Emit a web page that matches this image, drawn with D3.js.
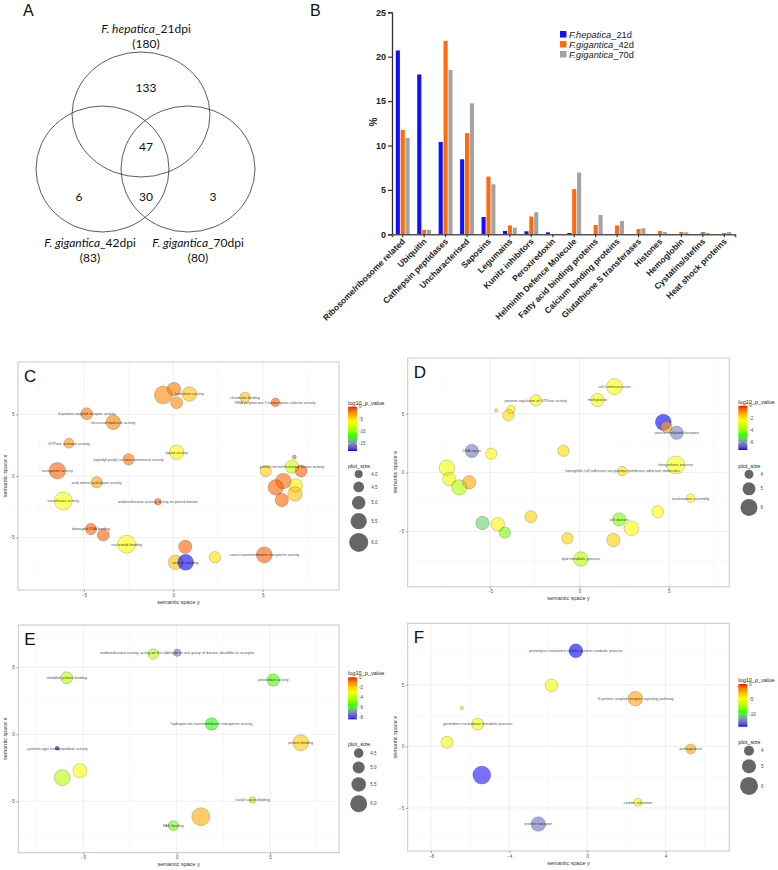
<!DOCTYPE html>
<html><head><meta charset="utf-8">
<script src="https://cdn.jsdelivr.net/npm/d3@7/dist/d3.min.js"></script>
<style>
body{margin:0;background:#fff}
svg{display:block;font-family:"Liberation Sans",Arial,sans-serif}
</style>
</head><body>
<svg id="chart" width="778" height="870"></svg>
<script>
// ================= DATA =================
// Panel A (Venn)
const vennSetNames = [["F. hepatica","_21dpi"],["F. gigantica","_42dpi"],["F. gigantica","_70dpi"]];
const vennSetTotals = [180, 83, 80];
const vennRegionCounts = {only21: 133, all3: 47, only42: 6, s42and70: 30, only70: 3};

// Panel B (bars)
const categories = ["Ribosome/ribosome related","Ubiquitin","Cathepsin peptidases","Uncharacterised","Saposins","Legumains","Kunitz inhibitors","Peroxiredoxin","Helminth Defence Molecule","Fatty acid binding proteins","Calcium binding proteins","Glutathione S transferases","Histones","Hemoglobin","Cystatins/stefins","Heat shock proteins"];
const seriesNames = [["F.hepatica","_21d"],["F.gigantica","_42d"],["F.gigantica","_70d"]];
const hepatica21 = [20.7,18.0,10.4,8.45,1.95,0.38,0.34,0.22,0.15,0,0,0,0,0,0,0];
const gigantica42 = [11.75,0.5,21.8,11.4,6.5,1.0,2.0,0,5.1,1.05,1.0,0.6,0.38,0.26,0.26,0.15];
const gigantica70 = [10.85,0.5,18.5,14.75,5.63,0.75,2.48,0,6.95,2.18,1.5,0.68,0.26,0.23,0.15,0.26];
const yTicksB = [0,5,10,15,20,25];

// Panels C-F (REVIGO): [label, semantic space y (x-axis), semantic space x (y-axis), log10_p_value, plot_size]
const goC = [
 ["", -0.56, 6.59, -2.2, 5.82],
 ["", 0.04, 7.07, -1.9, 4.98],
 ["", 0.19, 5.96, -2.2, 4.73],
 ["hydrolase activity", 0.90, 6.67, -4.1, 5.2],
 ["chromatin binding", 4.01, 6.40, -4.0, 4.47],
 ["RNA polymerase II transcription cofactor activity", 5.71, 5.99, -1.1, 4.11],
 ["G-protein coupled receptor activity", -4.85, 5.07, -1.7, 4.73],
 ["structural molecule activity", -3.36, 4.37, -2.0, 5.2],
 ["GTPase activator activity", -5.84, 2.66, -2.5, 4.36],
 ["ligase activity", 0.19, 1.93, -5.8, 5.2],
 ["peptidyl-prolyl cis-trans isomerase activity", -2.50, 1.36, -1.7, 4.62],
 ["transporter activity", -6.49, 0.43, -1.2, 5.56],
 ["acid-amino acid ligase activity", -4.29, -0.51, -3.0, 4.62],
 ["transferase activity", -6.16, -2.03, -6.0, 5.82],
 ["oxidoreductase activity, acting on paired donors", -0.86, -2.09, -1.1, 3.75],
 ["damaged DNA binding", -4.61, -4.31, -1.2, 4.62],
 ["", -3.92, -4.80, -1.1, 4.73],
 ["nucleotide binding", -2.61, -5.55, -6.2, 5.82],
 ["", 0.67, -5.75, -1.2, 4.98],
 ["", 2.33, -6.61, -5.0, 4.62],
 ["cation transmembrane transporter activity", 5.09, -6.42, -1.1, 5.45],
 ["", 0.13, -7.02, -4.0, 5.2],
 ["zinc ion binding", 0.69, -7.02, -18.0, 5.45],
 ["", 6.77, 1.54, -1.1, 3.27],
 ["", 5.17, 0.41, -4.5, 4.62],
 ["protein serine/threonine kinase activity", 6.64, 0.76, -8.0, 4.98],
 ["", 7.15, 0.41, -1.1, 4.73],
 ["", 6.16, -0.41, -1.4, 5.35],
 ["", 5.73, -0.92, -1.2, 5.35],
 ["", 6.85, -0.76, -5.5, 4.98],
 ["", 6.81, -1.46, -4.0, 5.2],
 ["", 6.07, -1.95, -1.3, 4.98]
];
const goD = [
 ["cell communication", 1.96, 7.29, -2.4, 5.75],
 ["methylation", 1.01, 6.16, -2.5, 5.1],
 ["positive regulation of GTPase activity", -2.44, 6.13, -2.3, 4.6],
 ["", -4.65, 5.28, -1.8, 2.6],
 ["", -3.82, 5.37, -2.2, 3.75],
 ["", -3.97, 4.86, -1.9, 4.6],
 ["", 4.69, 4.27, -7.2, 5.75],
 ["", 4.86, 3.89, -1.2, 4.6],
 ["vesicle-mediated transport", 5.44, 3.38, -6.2, 5.1],
 ["DNA repair", -6.01, 1.83, -6.3, 5.1],
 ["", -4.93, 1.60, -2.3, 4.6],
 ["", -0.89, 1.85, -1.9, 4.6],
 ["", -7.41, 0.41, -2.5, 5.6],
 ["", -7.28, -0.55, -2.6, 5.1],
 ["", -6.72, -1.26, -3.6, 5.6],
 ["", -6.16, -0.83, -1.3, 5.1],
 ["biosynthetic process", 5.39, 0.64, -2.4, 6.25],
 ["homophilic cell adhesion via plasma membrane adhesion molecules", 2.40, 0.13, -2.0, 4.1],
 ["nucleosome assembly", 6.22, -2.19, -2.5, 3.9],
 ["", 4.38, -3.33, -2.4, 4.75],
 ["", -2.72, -3.76, -1.8, 4.75],
 ["", -5.42, -4.29, -5.3, 5.1],
 ["", -4.56, -4.40, -2.3, 5.1],
 ["", -4.17, -5.11, -4.3, 4.6],
 ["cell division", 2.22, -3.98, -4.2, 5.1],
 ["", 2.91, -4.74, -2.4, 5.4],
 ["", -0.67, -5.59, -1.8, 4.6],
 ["", 1.90, -5.73, -1.8, 5.1],
 ["lipid metabolic process", 0.08, -7.35, -3.5, 5.4]
];
const goE = [
 ["", -1.25, 5.99, -4.0, 4.7],
 ["oxidoreductase activity, acting on the aldehyde or oxo group of donors, disulfide as acceptor", 0.03, 6.09, -7.2, 4.05],
 ["unfolded protein binding", -5.89, 4.22, -4.0, 4.99],
 ["antioxidant activity", 5.17, 4.05, -5.3, 5.1],
 ["hydrogen ion transmembrane transporter activity", 1.87, 0.77, -5.5, 5.1],
 ["protein binding", 6.64, -0.63, -2.0, 5.8],
 ["cysteine-type endopeptidase activity", -6.40, -1.04, -8.3, 3.37],
 ["", -5.18, -2.72, -2.8, 5.39],
 ["", -6.13, -3.24, -4.0, 5.8],
 ["nickel cation binding", 4.07, -4.90, -3.8, 3.9],
 ["", 1.29, -6.15, -1.5, 6.2],
 ["FAD binding", -0.18, -6.82, -5.0, 4.58]
];
const goF = [
 ["proteolysis involved in cellular protein catabolic process", -0.59, 7.76, -14.1, 5.0],
 ["", -1.84, 4.97, -5.0, 4.65],
 ["G-protein coupled receptor signaling pathway", 2.46, 3.88, -2.3, 5.15],
 ["", -6.42, 3.12, -3.5, 2.35],
 ["pyrimidine nucleobase metabolic process", -5.61, 1.82, -5.0, 4.5],
 ["", -7.18, 0.33, -5.2, 4.5],
 ["pathogenesis", 5.29, -0.21, -2.5, 4.0],
 ["", -5.40, -2.33, -14.0, 6.0],
 ["carbon utilization", 2.58, -4.54, -5.0, 3.5],
 ["protein transport", -2.51, -6.31, -12.5, 5.15]
];
const pTicksC = [0,-5,-10,-15], sizeTicksC = [4.0,4.5,5.0,5.5,6.0];
const pTicksD = [0,-2,-4,-6], sizeTicksD = [4,5,6];
const pTicksE = [0,-2,-4,-6,-8], sizeTicksE = [4.5,5.0,5.5,6.0];
const pTicksF = [0,-5,-10], sizeTicksF = [4,5,6];

// ================= DRAW =================
const svg = d3.select("#chart");
svg.append("rect").attr("width",778).attr("height",870).attr("fill","#fff");

// ---------- Panel A ----------
(function(){
  const g = svg.append("g").style("font-family","Lato, 'Open Sans', sans-serif").attr("fill","#111");
  g.append("text").attr("x",23).attr("y",16).style("font-size","16px").style("font-family","'Liberation Sans',Arial").text("A");
  const ell = [[141,114.5,69,62.5],[102.5,169,66.5,63],[188,169,67,63]];
  g.selectAll("ellipse").data(ell).join("ellipse")
    .attr("cx",d=>d[0]).attr("cy",d=>d[1]).attr("rx",d=>d[2]).attr("ry",d=>d[3])
    .attr("fill","none").attr("stroke","#333").attr("stroke-width",0.8);
  const labPos = [[146,33,47.5],[90,247,262],[198,247,262]];
  labPos.forEach((p,i)=>{
    const t = g.append("text").attr("x",p[0]).attr("y",p[1]).attr("text-anchor","middle").style("font-size","12px");
    t.append("tspan").style("font-style","italic").text(vennSetNames[i][0]);
    t.append("tspan").text(vennSetNames[i][1]);
    g.append("text").attr("x",p[0]).attr("y",p[2]).attr("text-anchor","middle").style("font-size","12px").text("("+vennSetTotals[i]+")");
  });
  const cnt = [[146,92,vennRegionCounts.only21],[146,151,vennRegionCounts.all3],[79,201,vennRegionCounts.only42],[146,201,vennRegionCounts.s42and70],[213,201,vennRegionCounts.only70]];
  g.selectAll("text.cnt").data(cnt).join("text").attr("class","cnt")
    .attr("x",d=>d[0]).attr("y",d=>d[1]).attr("text-anchor","middle").style("font-size","12px").text(d=>d[2]);
})();

// ---------- Panel B ----------
(function(){
  const g = svg.append("g");
  g.append("text").attr("x",310).attr("y",16).style("font-size","16px").attr("fill","#111").text("B");
  const x0 = d3.scaleBand().domain(categories).range([392,735]).padding(0);
  const bw = x0.bandwidth();
  const x1 = d3.scaleBand().domain([0,1,2]).range([bw*0.14, bw*0.86]).padding(0.16);
  const y = d3.scaleLinear().domain([0,25]).range([234.3,12.3]);
  const cols = ["#1010ff","#ff6a0a","#a3a3a3"];
  const series = [hepatica21,gigantica42,gigantica70];
  series.forEach((vals,si)=>{
    g.selectAll("rect.s"+si).data(vals).join("rect").attr("class","s"+si)
      .attr("x",(d,i)=>x0(categories[i])+x1(si)).attr("width",x1.bandwidth())
      .attr("y",d=>y(d)).attr("height",d=>y(0)-y(d)).attr("fill",cols[si]);
  });
  const ya = g.append("g").attr("transform","translate(392,0)").call(d3.axisLeft(y).tickValues(yTicksB).tickSize(4).tickPadding(2));
  ya.select(".domain").attr("stroke","#333").attr("stroke-width",1.3);
  ya.selectAll(".tick line").attr("stroke","#333").attr("stroke-width",1.2);
  ya.selectAll("text").style("font-size","9px").style("font-weight","bold").attr("fill","#222");
  const xa = g.append("g").attr("transform","translate(0,234.3)").call(d3.axisBottom(x0).tickSize(3).tickFormat(""));
  xa.select(".domain").attr("stroke","#555").attr("stroke-width",1.6);
  xa.selectAll(".tick line").attr("stroke","#333").attr("stroke-width",1.1);
  g.selectAll("text.cat").data(categories).join("text").attr("class","cat")
    .attr("transform",d=>`translate(${x0(d)+bw/2+3},242) rotate(-45)`)
    .attr("text-anchor","end").style("font-size","8.5px").style("font-weight","bold").attr("fill","#222").text(d=>d);
  g.append("text").attr("transform","translate(377,122) rotate(-90)").attr("text-anchor","middle")
    .style("font-size","10px").style("font-weight","bold").attr("fill","#222").text("%");
  seriesNames.forEach((s,i)=>{
    const yy = 34.3 + i*10;
    g.append("rect").attr("x",560).attr("y",yy-3.3).attr("width",6.5).attr("height",6.5).attr("fill",cols[i]);
    const t = g.append("text").attr("x",569).attr("y",yy+3.2).style("font-size","9.3px").attr("fill","#222");
    t.append("tspan").style("font-style","italic").text(s[0]);
    t.append("tspan").text(s[1]);
  });
})();

// ---------- Scatter panels ----------
function scatterPanel(cfg, rows, pTicks, sizeTicks){
  const g = svg.append("g");
  const x = d3.scaleLinear().domain(cfg.xDomain).range([cfg.left, cfg.right]);
  const y = d3.scaleLinear().domain(cfg.yDomain).range([cfg.bottom, cfg.top]);
  const minP = d3.min(rows, d=>d[3]);
  const color = d3.scaleLinear().domain([minP, minP*2/3, minP/3, 0])
    .range(["#0000ff","#00ff00","#ffff00","#ff0000"]).interpolate(d3.interpolateLab);
  const rs = d3.scaleLinear().domain(cfg.sizeDomain).range(cfg.rRange);
  const W = cfg.right-cfg.left, H = cfg.bottom-cfg.top;
  g.append("rect").attr("x",cfg.left).attr("y",cfg.top).attr("width",W).attr("height",H).attr("fill","#fff");
  cfg.xMinor.forEach(v=>g.append("line").attr("x1",x(v)).attr("x2",x(v)).attr("y1",cfg.top).attr("y2",cfg.bottom).attr("stroke","#f2f2f2").attr("stroke-width",0.5));
  cfg.yMinor.forEach(v=>g.append("line").attr("y1",y(v)).attr("y2",y(v)).attr("x1",cfg.left).attr("x2",cfg.right).attr("stroke","#f2f2f2").attr("stroke-width",0.5));
  cfg.xMajor.forEach(v=>g.append("line").attr("x1",x(v)).attr("x2",x(v)).attr("y1",cfg.top).attr("y2",cfg.bottom).attr("stroke","#e8e8e8").attr("stroke-width",0.7));
  cfg.yMajor.forEach(v=>g.append("line").attr("y1",y(v)).attr("y2",y(v)).attr("x1",cfg.left).attr("x2",cfg.right).attr("stroke","#e8e8e8").attr("stroke-width",0.7));
  g.selectAll("circle.pt").data(rows).join("circle").attr("class","pt")
    .attr("cx",d=>x(d[1])).attr("cy",d=>y(d[2])).attr("r",d=>rs(d[4]))
    .attr("fill",d=>color(d[3])).attr("fill-opacity",0.6);
  g.selectAll("circle.ol").data(rows).join("circle").attr("class","ol")
    .attr("cx",d=>x(d[1])).attr("cy",d=>y(d[2])).attr("r",d=>rs(d[4]))
    .attr("fill","none").attr("stroke","rgba(0,0,0,0.35)").attr("stroke-width",0.5);
  g.selectAll("text.lab").data(rows.filter(d=>d[0])).join("text").attr("class","lab")
    .attr("x",d=>x(d[1])).attr("y",d=>y(d[2])+1.3).attr("text-anchor","middle")
    .style("font-size","3.8px").attr("fill","rgba(0,0,0,0.75)").text(d=>d[0]);
  g.append("rect").attr("x",cfg.left).attr("y",cfg.top).attr("width",W).attr("height",H)
    .attr("fill","none").attr("stroke","#c8c8c8").attr("stroke-width",1);
  const xa = g.append("g").attr("transform",`translate(0,${cfg.bottom})`).call(d3.axisBottom(x).tickValues(cfg.xMajor).tickSize(2).tickPadding(1.5));
  const ya = g.append("g").attr("transform",`translate(${cfg.left},0)`).call(d3.axisLeft(y).tickValues(cfg.yMajor).tickSize(2).tickPadding(1.5));
  [xa,ya].forEach(a=>{
    a.select(".domain").remove();
    a.selectAll(".tick line").attr("stroke","#555").attr("stroke-width",0.5);
    a.selectAll("text").style("font-size","4.5px").attr("fill","#555");
  });
  g.append("text").attr("x",(cfg.left+cfg.right)/2).attr("y",cfg.bottom+13.5).attr("text-anchor","middle")
    .style("font-size","5.5px").attr("fill","#333").text("semantic space y");
  g.append("text").attr("transform",`translate(${cfg.left-11},${(cfg.top+cfg.bottom)/2}) rotate(-90)`).attr("text-anchor","middle")
    .style("font-size","5.5px").attr("fill","#333").text("semantic space x");
  g.append("text").attr("x",cfg.left+6).attr("y",cfg.top+19.5).style("font-size","17px").attr("fill","#111").text(cfg.letter);
  const lx = cfg.right+9;
  g.append("text").attr("x",lx).attr("y",cfg.cTitle+2).style("font-size","5.6px").attr("fill","#222").text("log10_p_value");
  const gid = "grad"+cfg.letter;
  const grad = svg.append("defs").append("linearGradient").attr("id",gid).attr("x1",0).attr("x2",0).attr("y1",0).attr("y2",1);
  d3.range(21).forEach(i=>grad.append("stop").attr("offset",i/20).attr("stop-color",color(minP*i/20)));
  g.append("rect").attr("x",lx).attr("y",cfg.barTop).attr("width",9).attr("height",cfg.barBottom-cfg.barTop).attr("fill",`url(#${gid})`);
  const bs = d3.scaleLinear().domain([minP,0]).range([cfg.barBottom,cfg.barTop]);
  pTicks.forEach(v=>{
    g.append("line").attr("x1",lx).attr("x2",lx+1.8).attr("y1",bs(v)).attr("y2",bs(v)).attr("stroke","#fff").attr("stroke-width",0.5);
    g.append("line").attr("x1",lx+7.2).attr("x2",lx+9).attr("y1",bs(v)).attr("y2",bs(v)).attr("stroke","#fff").attr("stroke-width",0.5);
    g.append("text").attr("x",lx+11).attr("y",bs(v)+1.6).style("font-size","4.5px").attr("fill","#444").text(v);
  });
  g.append("text").attr("x",lx).attr("y",cfg.sTitle+2).style("font-size","5.6px").attr("fill","#222").text("plot_size");
  let cy = cfg.sTitle+4;
  const maxR = rs(sizeTicks[sizeTicks.length-1]);
  sizeTicks.forEach((v,i)=>{
    const r = rs(v);
    cy += (i===0? r : rs(sizeTicks[i-1]) + r + 3.6);
    g.append("circle").attr("cx",lx+10.7).attr("cy",cy).attr("r",r).attr("fill","#000").attr("fill-opacity",0.6);
    g.append("text").attr("x",lx+10.7+maxR+3).attr("y",cy+1.6).style("font-size","4.5px").attr("fill","#444")
      .text(Number.isInteger(v) && sizeTicks.some(s=>!Number.isInteger(s)) ? v.toFixed(1) : v);
  });
}

scatterPanel({letter:"C", left:18, right:339, top:362, bottom:590,
  xDomain:[-8.69,9.27], yDomain:[-9.27,9.27],
  xMajor:[-5,0,5], xMinor:[-7.5,-2.5,2.5,7.5], yMajor:[-5,0,5], yMinor:[-7.5,-2.5,2.5,7.5],
  sizeDomain:[4,6], rRange:[4,9.5], cTitle:403, barTop:406.7, barBottom:451, sTitle:466}, goC, pTicksC, sizeTicksC);
scatterPanel({letter:"D", left:407.7, right:729.3, top:358, bottom:586.7,
  xDomain:[-9.6,8.38], yDomain:[-9.7,9.73],
  xMajor:[-5,0,5], xMinor:[-7.5,-2.5,2.5,7.5], yMajor:[-5,0,5], yMinor:[-7.5,-2.5,2.5,7.5],
  sizeDomain:[4,6], rRange:[4.5,8.5], cTitle:402, barTop:405.7, barBottom:450, sTitle:465.7}, goD, pTicksD, sizeTicksD);
scatterPanel({letter:"E", left:18.3, right:339, top:625, bottom:852.7,
  xDomain:[-8.48,8.69], yDomain:[-8.84,8.16],
  xMajor:[-5,0,5], xMinor:[-7.5,-2.5,2.5,7.5], yMajor:[-5,0,5], yMinor:[-7.5,-2.5,2.5,7.5],
  sizeDomain:[4.5,6], rRange:[4.8,8.5], cTitle:672.7, barTop:677.3, barBottom:719.3, sTitle:744.3}, goE, pTicksE, sizeTicksE);
scatterPanel({letter:"F", left:407.7, right:729.3, top:623.3, bottom:851,
  xDomain:[-9.19,7.26], yDomain:[-8.5,10.0],
  xMajor:[-8,-4,0,4], xMinor:[-6,-2,2,6], yMajor:[-5,0,5], yMinor:[-7.5,-2.5,2.5,7.5],
  sizeDomain:[4,6], rRange:[5,9], cTitle:680, barTop:684, barBottom:726.7, sTitle:741.7}, goF, pTicksF, sizeTicksF);
</script>
</body></html>
